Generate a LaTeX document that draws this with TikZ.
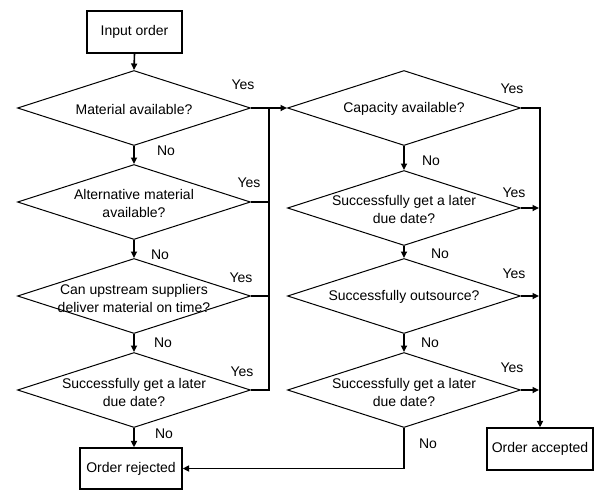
\documentclass[tikz,border=0pt]{standalone}
\usepackage{fontspec}
\setmainfont{Liberation Sans}
\usetikzlibrary{shapes.geometric,arrows.meta}
\begin{document}
\begin{tikzpicture}[x=1pt,y=-1pt,
  every node/.style={font=\fontsize{14}{18}\selectfont},
  dia/.style={draw,shape=diamond,line width=1pt,minimum width=233pt,minimum height=75pt,inner sep=0pt},
  txt/.style={align=center},
  boxnode/.style={draw,line width=1.3pt,inner sep=0pt,align=center},
  conn/.style={line width=1.6pt},
  arr/.style={conn,-{Triangle[length=6.5pt,width=6pt]}},
  lab/.style={inner sep=0pt}]
\useasboundingbox (0,0) rectangle (600,491);

% start and end boxes
\node[boxnode,minimum width=95pt,minimum height=42pt] (in) at (134.5,32) {Input order};
\node[boxnode,minimum width=102pt,minimum height=41pt] (rej) at (131,468.5) {Order rejected};
\node[boxnode,minimum width=106pt,minimum height=42pt] (acc) at (540,449) {Order accepted};

% material checks (left column)
\node[dia] (d1) at (134,108) {};
\node[txt] at (134,109) {Material available?};
\node[dia] (d2) at (134,202) {};
\node[txt] at (134,203) {Alternative material\\available?};
\node[dia] (d3) at (134,296) {};
\node[txt] at (134,298) {Can upstream suppliers\\deliver material on time?};
\node[dia] (d4) at (134,390) {};
\node[txt] at (134,392) {Successfully get a later\\due date?};

% capacity checks (right column)
\node[dia] (d5) at (404,108) {};
\node[txt] at (404,109) {Capacity available?};
\node[dia] (d6) at (404,208) {};
\node[txt] at (404,209) {Successfully get a later\\due date?};
\node[dia] (d7) at (404,296) {};
\node[txt] at (404,297) {Successfully outsource?};
\node[dia] (d8) at (404,390) {};
\node[txt] at (404,392) {Successfully get a later\\due date?};

% vertical flow
\draw[arr] (in.south) -- (d1.north);
\draw[arr] (d1.south) -- (d2.north);
\draw[arr] (d2.south) -- (d3.north);
\draw[arr] (d3.south) -- (d4.north);
\draw[arr] (d4.south) -- (d4.south |- rej.north);
\draw[arr] (d5.south) -- (d6.north);
\draw[arr] (d6.south) -- (d7.north);
\draw[arr] (d7.south) -- (d8.north);

% material yes-collector into capacity check
\coordinate (bus) at (269,108);
\draw[arr] (d1.east) -- (d5.west);
\draw[conn] (d4.east) -| (bus);
\draw[conn] (d2.east) -- (d2.east -| bus);
\draw[conn] (d3.east) -- (d3.east -| bus);

% capacity yes-collector into acceptance
\draw[arr] (d5.east) -| (acc.north);
\draw[arr] (d6.east) -- ([xshift=-1pt]d6.east -| acc.north);
\draw[arr] (d7.east) -- ([xshift=-1pt]d7.east -| acc.north);
\draw[arr] (d8.east) -- ([xshift=-1pt]d8.east -| acc.north);

% final rejection
\draw[arr] (d8.south) |- (rej.east);

% branch labels
\node[lab] at (243,85) {Yes};
\node[lab] at (249,183) {Yes};
\node[lab] at (241,278) {Yes};
\node[lab] at (242,372) {Yes};
\node[lab] at (512,89) {Yes};
\node[lab] at (514,193) {Yes};
\node[lab] at (514,274) {Yes};
\node[lab] at (512,368) {Yes};
\node[lab] at (166,151) {No};
\node[lab] at (160,255) {No};
\node[lab] at (163,343) {No};
\node[lab] at (164,434) {No};
\node[lab] at (431,161) {No};
\node[lab] at (440,254) {No};
\node[lab] at (430,343) {No};
\node[lab] at (428,444) {No};
\end{tikzpicture}
\end{document}
